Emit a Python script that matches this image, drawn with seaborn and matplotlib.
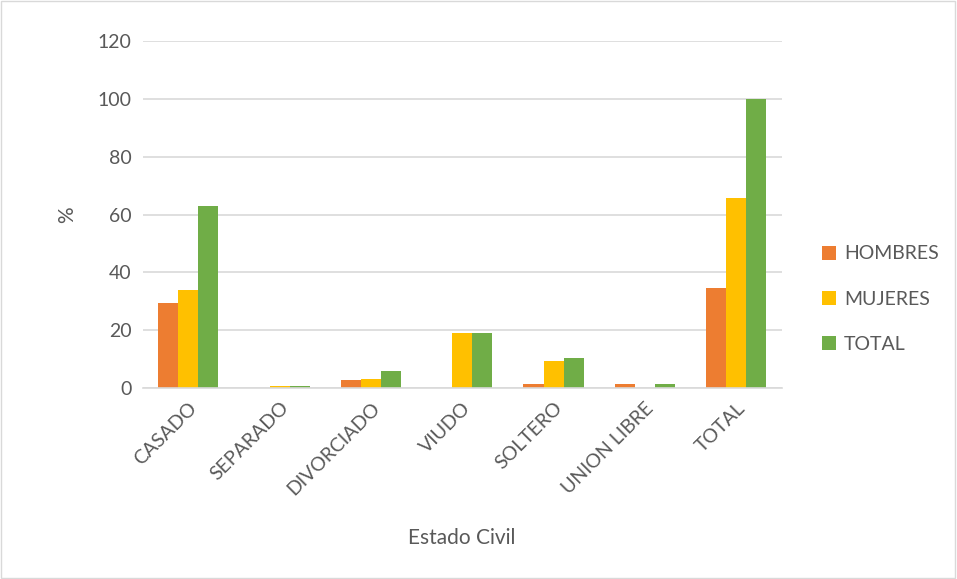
import matplotlib
matplotlib.use("Agg")
import matplotlib.pyplot as plt
import seaborn as sns
import pandas as pd
import numpy as np

# data
categorias = ['CASADO', 'SEPARADO', 'DIVORCIADO', 'VIUDO', 'SOLTERO', 'UNION LIBRE', 'TOTAL']
hombres = [29.3, 0.0, 2.8, 0.0, 1.4, 1.4, 34.6]
mujeres = [33.8, 0.7, 3.2, 18.9, 9.2, 0.0, 65.6]
total = [63.0, 0.6, 6.0, 18.9, 10.5, 1.4, 100.0]
series = ['HOMBRES', 'MUJERES', 'TOTAL']
colores = ['#ED7D31', '#FFC000', '#70AD47']

df = pd.DataFrame({
    'Estado Civil': categorias * 3,
    'Serie': [s for s in series for _ in categorias],
    'Valor': hombres + mujeres + total,
})

sns.set_style('white')
plt.rcParams['font.family'] = ['Lato', 'DejaVu Sans']

fig = plt.figure(figsize=(9.57, 5.79), dpi=100)
ax = fig.add_axes([0.149, 0.33, 0.668, 0.599])

sns.barplot(data=df, x='Estado Civil', y='Valor', hue='Serie', order=categorias,
            hue_order=series, palette=colores, width=0.66, gap=0, saturation=1,
            edgecolor='none', ax=ax, errorbar=None)

ax.set_ylim(0, 120)
ax.set_yticks(np.arange(0, 121, 20))
ax.yaxis.grid(True, color='#d9d9d9', linewidth=1.2)
ax.set_axisbelow(True)
for s in ['top', 'right', 'left']:
    ax.spines[s].set_visible(False)
ax.spines['bottom'].set_color('#d9d9d9')
ax.spines['bottom'].set_linewidth(1.2)
ax.tick_params(axis='both', length=0, labelsize=14, colors='#595959', pad=8)
plt.setp(ax.get_xticklabels(), rotation=45, ha='right', rotation_mode='anchor')

ax.set_xlabel('Estado Civil', fontsize=15, color='#595959', labelpad=22)
ax.set_ylabel('%', fontsize=15, color='#595959', labelpad=15)

leg = ax.legend(loc='center left', bbox_to_anchor=(1.035, 0.256), frameon=False,
                fontsize=14, handlelength=0.75, handleheight=0.75,
                labelspacing=1.45, handletextpad=0.4)
for t in leg.get_texts():
    t.set_color('#595959')

# figure border
fig.patches.append(plt.Rectangle((0.001, 0.001), 0.997, 0.997, transform=fig.transFigure,
                                 fill=False, edgecolor='#d9d9d9', linewidth=1))

fig.savefig('out.png', dpi=100)
